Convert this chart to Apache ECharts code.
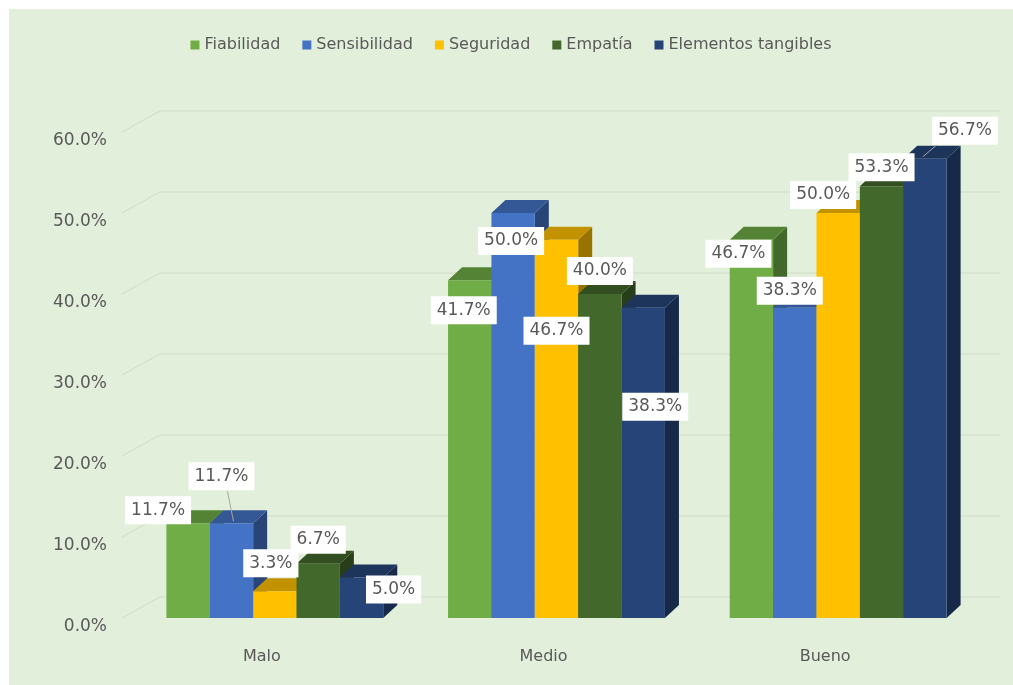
<!DOCTYPE html>
<html>
<head>
<meta charset="utf-8">
<script src="https://cdn.jsdelivr.net/npm/echarts@6/dist/echarts.min.js"></script>
<style>
  html, body { margin: 0; padding: 0; background: #ffffff; }
  #chart { position: absolute; left: 9px; top: 9px; width: 1004px; height: 676px; background: #E2EFDA; }
</style>
</head>
<body>
<div id="chart"></div>
<script>
// ---- data ----
const categories = ['Malo', 'Medio', 'Bueno'];
const seriesNames = ['Fiabilidad', 'Sensibilidad', 'Seguridad', 'Empatía', 'Elementos tangibles'];
const fiabilidad = [11.7, 41.7, 46.7];
const sensibilidad = [11.7, 50.0, 38.3];
const seguridad = [3.3, 46.7, 50.0];
const empatia = [6.7, 40.0, 53.3];
const tangibles = [5.0, 38.3, 56.7];
const yTicks = [0, 10, 20, 30, 40, 50, 60];

// ---- style ----
const seriesValues = [fiabilidad, sensibilidad, seguridad, empatia, tangibles];
const colors = ['#70AD47', '#4472C4', '#FFC000', '#43682B', '#264478'];
const FONT = '"DejaVu Sans", sans-serif';
const DEPTH = [14, -13];
// label placement relative to bar front-top centre [dx, dy, leader]
const labelPlace = [
  [[-30, -13], [-6, 30], [-13, 14]],
  [[-10, -47, 1], [-2, 28], [-5, -17]],
  [[-4, -28], [0, 91], [-15, -18]],
  [[0, -24], [0, -23], [0, -19]],
  [[32, 12], [12, 99], [40, -28, 1]]
];

function shade(hex, f) {
  const n = parseInt(hex.slice(1), 16);
  const r = Math.round(((n >> 16) & 255) * f);
  const g = Math.round(((n >> 8) & 255) * f);
  const b = Math.round((n & 255) * f);
  return 'rgb(' + r + ',' + g + ',' + b + ')';
}

function makeRender(si) {
  const col = colors[si];
  return function (params, api) {
    const cat = api.value(0);
    const v = api.value(1);
    const top = api.coord([cat, v]);
    const base = api.coord([cat, 0]);
    const band = api.size([1, 0])[0];
    const bw = band * 0.154;
    const x0 = top[0] + (si - 2.5) * bw;
    const x1 = x0 + bw;
    const yt = top[1], yb = base[1];
    const dx = DEPTH[0], dy = DEPTH[1];
    const children = [
      { type: 'polygon', shape: { points: [[x1, yt], [x1 + dx, yt + dy], [x1 + dx, yb + dy], [x1, yb]] },
        style: { fill: shade(col, 0.6) } },
      { type: 'polygon', shape: { points: [[x0, yt], [x1, yt], [x1 + dx, yt + dy], [x0 + dx, yt + dy]] },
        style: { fill: shade(col, 0.76) } },
      { type: 'rect', shape: { x: x0, y: yt, width: bw, height: yb - yt }, style: { fill: col } }
    ];
    const lp = labelPlace[si][cat];
    const cx = (x0 + x1) / 2;
    const lx = cx + lp[0], ly = yt + lp[1];
    if (lp[2]) {
      const right = lp[0] > 0;
      children.push({ type: 'line', z2: 90,
        shape: { x1: right ? lx - 28 : lx + 6, y1: right ? ly + 14 : ly + 15,
                 x2: right ? cx - 2 : cx + 2, y2: yt - 2 },
        style: { stroke: '#A6A6A6', lineWidth: 1 } });
    }
    children.push({ type: 'text', z2: 100, x: lx, y: ly,
      style: { text: v.toFixed(1) + '%', fill: '#595959', font: '17px ' + FONT,
        align: 'center', verticalAlign: 'middle', backgroundColor: '#FFFFFF', padding: [6, 6, 5, 6] } });
    return { type: 'group', children: children };
  };
}

const series = [{
  type: 'custom', name: '_grid', silent: true, z: 1,
  data: yTicks.map(t => [0, t]),
  renderItem: function (params, api) {
    const y = api.coord([0, api.value(1)])[1];
    const cs = params.coordSys;
    return { type: 'polyline', shape: { points: [[cs.x - 12, y], [cs.x + 26, y - 21], [cs.x + cs.width + 21, y - 21]] },
      style: { stroke: '#CFDCC6', lineWidth: 1, fill: null } };
  }
}];
seriesNames.forEach((name, si) => {
  series.push({
    type: 'custom', name: name, z: 2,
    itemStyle: { color: colors[si] },
    data: seriesValues[si].map((v, ci) => [ci, v]),
    encode: { x: 0, y: 1 },
    renderItem: makeRender(si)
  });
});

const chart = echarts.init(document.getElementById('chart'));
chart.setOption({
  animation: false,
  backgroundColor: '#E2EFDA',
  legend: {
    data: seriesNames, top: 23, left: 'center', icon: 'rect', itemWidth: 9, itemHeight: 9, itemGap: 22,
    textStyle: { color: '#595959', fontSize: 16, fontFamily: FONT }
  },
  grid: { left: 125, right: 34, top: 123, bottom: 67 },
  xAxis: {
    type: 'category', data: categories,
    axisLine: { show: false }, axisTick: { show: false }, splitLine: { show: false },
    axisLabel: { color: '#595959', fontSize: 16, fontFamily: FONT, margin: 31, padding: [0, 26, 0, 0] }
  },
  yAxis: {
    type: 'value', min: 0, max: 60, interval: 10,
    axisLine: { show: false }, axisTick: { show: false }, splitLine: { show: false },
    axisLabel: { color: '#595959', fontSize: 17, fontFamily: FONT, margin: 27, verticalAlign: 'top',
      formatter: v => v.toFixed(1) + '%' }
  },
  series: series
});
</script>
</body>
</html>
